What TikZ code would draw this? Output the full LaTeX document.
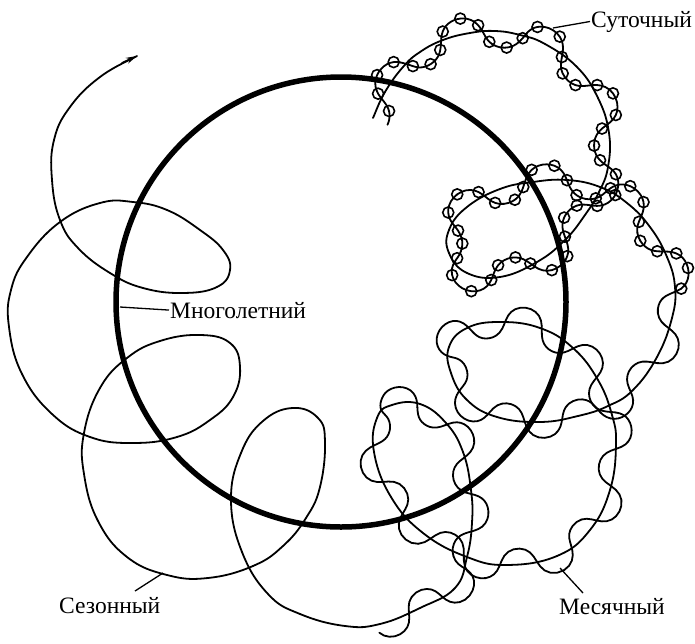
\documentclass[tikz,border=0pt]{standalone}
\usepackage{fontspec}
\setmainfont{Liberation Serif}
\usetikzlibrary{arrows.meta}
\def\LenOne{85}
\def\LenTwo{75}
\def\AmpW{16}
\def\BW{3}
\def\kt{0.2}
\def\NS{12}
\def\BeadStep{15}
\tikzset{
  curve/.style={line width=1.8pt, line join=round, line cap=round},
  bead/.style={line width=1.6pt},
  leader/.style={line width=1.3pt},
  lab/.style={font=\fontsize{23.5}{27}\selectfont, inner sep=1pt},
}
\def\ptlist{373/118/2, 373/118/2, 385/92/2, 403/67/2, 420/52/2, 443/40/2, 470/33/2, 495/31/2, 520/35/2, 545/44/2, 577/67/2, 598/98/2, 609/133/2, 608/167/2, 599/192/2, 585/215/2, 565/240/2, 537/262/2, 500/277/2, 467/273/2, 449/253/2, 449/230/2, 467/207/2, 500/189/2, 533/182/2, 567/180/2, 600/187/2, 627/203/2, 650/227/2, 667/257/2, 675/287/2, 672/318/1, 657/357/1, 633/390/1, 608/406/1, 578/416/1, 540/422/1, 497/417/1, 467/400/1, 451/373/1, 449/347/1, 467/328/1, 500/322/1, 540/328/1, 573/348/1, 598/380/1, 612/415/1, 616/445/1, 610/490/1, 590/530/1, 557/556/1, 507/565/1, 467/557/1, 423/533/1, 391/497/1, 374/452/1, 377/418/1, 392/405/1, 420/404/1, 446/423/1, 463/452/1, 471/490/1, 472/523/1, 467/557/1, 455/588/1, 420/608/1, 380/624/1, 345/626/0, 300/614/0, 268/594/0, 242/552/0, 231/500/0, 241/453/0, 263/421/0, 293/408/0, 318/418/0, 325/442/0, 320/487/0, 306/518/0, 283/546/0, 253/566/0, 208/578/0, 167/575/0, 127/557/0, 98/521/0, 84/474/0, 84/433/0, 100/388/0, 127/358/0, 160/341/0, 200/335/0, 230/343/0, 240/367/0, 233/397/0, 210/420/0, 177/437/0, 133/443/0, 90/437/0, 52/414/0, 22/374/0, 9/327/0, 11/290/0, 27/257/0, 60/222/0, 100/203/0, 133/202/0, 167/210/0, 200/230/0, 223/250/0, 230/270/0, 217/287/0, 183/293/0, 143/288/0, 110/273/0, 78/248/0, 60/220/0, 52/180/0, 54/140/0, 70/107/0, 100/77/0, 137/56/0, 137/56/0}
\newcommand\emitseg{%
  \pgfmathsetmacro\cax{\pBx+\kt*(\pCx-\pAx)}%
  \pgfmathsetmacro\cay{\pBy+\kt*(\pCy-\pAy)}%
  \pgfmathsetmacro\cbx{\pCx-\kt*(\pDx-\pBx)}%
  \pgfmathsetmacro\cby{\pCy-\kt*(\pDy-\pBy)}%
  \ifnum\pCf=2 \xdef\curL{\LenOne}\else\xdef\curL{\LenTwo}\fi
  \foreach \jj in {0,...,\NS}{%
    \pgfmathsetmacro\ms{\jj/\NS}%
    \pgfmathsetmacro\mt{1-\ms}%
    \pgfmathsetmacro\qpx{\mt*\mt*\mt*\pBx+3*\mt*\mt*\ms*\cax+3*\mt*\ms*\ms*\cbx+\ms*\ms*\ms*\pCx}%
    \pgfmathsetmacro\qpy{\mt*\mt*\mt*\pBy+3*\mt*\mt*\ms*\cay+3*\mt*\ms*\ms*\cby+\ms*\ms*\ms*\pCy}%
    \pgfmathsetmacro\qdx{3*\mt*\mt*(\cax-\pBx)+6*\mt*\ms*(\cbx-\cax)+3*\ms*\ms*(\pCx-\cbx)}%
    \pgfmathsetmacro\qdy{3*\mt*\mt*(\cay-\pBy)+6*\mt*\ms*(\cby-\cay)+3*\ms*\ms*(\pCy-\cby)}%
    \pgfmathsetmacro\qdl{max(veclen(\qdx,\qdy),0.0001)}%
    \pgfmathsetmacro\qtx{\qdx/\qdl}%
    \pgfmathsetmacro\qty{\qdy/\qdl}%
    \pgfmathsetmacro\qinc{veclen(\qpx-\lastpx,\qpy-\lastpy)}%
    \pgfmathsetmacro\qarc{\arcacc+\qinc}\xdef\arcacc{\qarc}%
    \pgfmathsetmacro\qph{\phacc+\qinc/\curL}\xdef\phacc{\qph}%
    \xdef\lastpx{\qpx}\xdef\lastpy{\qpy}%
    \pgfmathsetmacro\qang{mod(\phacc,1)*360}%
    \pgfmathsetmacro\qu{\BW*sin(2*\qang)}%
    \pgfmathsetmacro\qv{\AmpW*cos(\qang)}%
    \pgfmathsetmacro\qwx{\qpx+\qu*\qtx-\qv*\qty}%
    \pgfmathsetmacro\qwy{\qpy+\qu*\qty+\qv*\qtx}%
    \ifnum\jj=0 \xdef\basepath{(\qpx,\qpy)}\xdef\wigpath{(\qwx,\qwy)}%
    \else \xdef\basepath{\basepath -- (\qpx,\qpy)}\xdef\wigpath{\wigpath -- (\qwx,\qwy)}\fi
    \ifnum\pCf=2
      \pgfmathtruncatemacro\qbf{\arcacc>\nextbead}%
      \ifnum\qbf=1 \draw[bead] (\qwx,\qwy) circle[radius=5.5pt];%
        \pgfmathsetmacro\qnb{\nextbead+\BeadStep}\xdef\nextbead{\qnb}\fi
    \fi
  }%
  \edef\qcmd{\noexpand\draw[curve] \basepath;}\qcmd
  \ifnum\pCf>0 \edef\qcmd{\noexpand\draw[curve] \wigpath;}\qcmd\fi
}
\begin{document}
\begin{tikzpicture}[x=1pt,y=-1pt]
\useasboundingbox (0,0) rectangle (695,643);
% seasonal path with monthly wiggle and daily beads
\gdef\pAx{0}\gdef\pAy{0}\gdef\pBx{0}\gdef\pBy{0}\gdef\pCx{0}\gdef\pCy{0}\gdef\pCf{0}
\gdef\lastpx{373}\gdef\lastpy{118}\gdef\arcacc{0}\gdef\phacc{0}\gdef\nextbead{8}
\foreach \qx/\qy/\qf [count=\k] in \ptlist {%
  \ifnum\k>3 \xdef\pDx{\qx}\xdef\pDy{\qy}\emitseg\fi
  \xdef\pAx{\pBx}\xdef\pAy{\pBy}%
  \xdef\pBx{\pCx}\xdef\pBy{\pCy}%
  \xdef\pCx{\qx}\xdef\pCy{\qy}\xdef\pCf{\qf}%
}
\coordinate (arrS) at (122,63);
\coordinate (arrE) at (137,56);
\draw[curve, -{Stealth[length=11pt,width=6pt]}] (arrS) -- (arrE);
% multi-year circle
\node[circle, draw, line width=5.5pt, minimum size=450pt, inner sep=0pt] (multi) at (341,302) {};
% labels
\node[lab, anchor=base west] (sut) at (590,27) {Суточный};
\node[lab, anchor=base west] (mno) at (169,318) {Многолетний};
\node[lab, anchor=base west] (sez) at (58,613) {Сезонный};
\node[lab, anchor=base west] (mes) at (558,614) {Месячный};
\coordinate (sutP) at (553,28);
\coordinate (mnoP) at (120,307);
\coordinate (sezP) at (163,573);
\coordinate (sezE) at (135,591);
\coordinate (mesP) at (560,568);
\coordinate (mesE) at (583,593);
\draw[leader] (sutP) -- (sut.west);
\draw[leader] (mnoP) -- (mno.west);
\draw[leader] (sezP) -- (sezE);
\draw[leader] (mesP) -- (mesE);
\end{tikzpicture}
\end{document}
